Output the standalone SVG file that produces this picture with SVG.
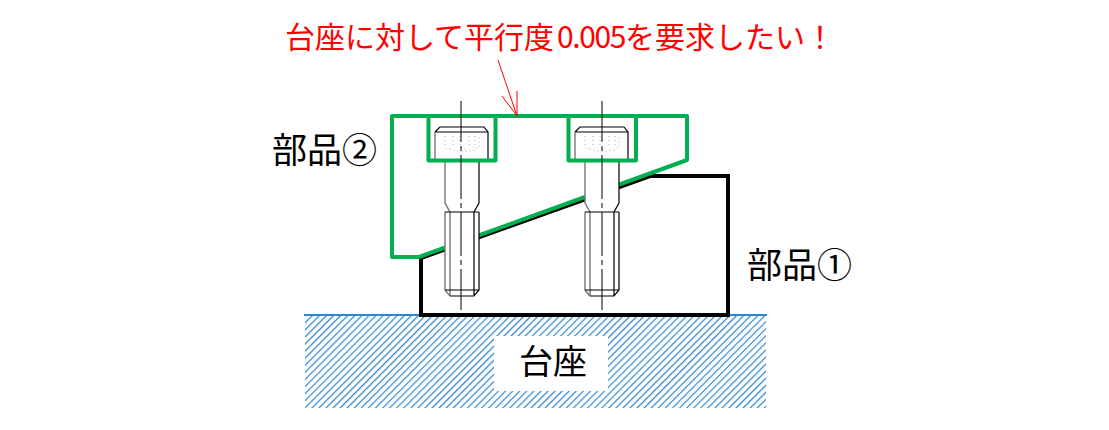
<svg xmlns="http://www.w3.org/2000/svg" width="1109" height="430" viewBox="0 0 1109 430">
<style>
text{font-family:"Noto Sans CJK JP","Liberation Sans",sans-serif}
.lbl{font-size:35px;fill:#000}
.g{fill:none;stroke:#00b050;stroke-width:4;stroke-linejoin:round}
.k{fill:none;stroke:#000;stroke-width:4;stroke-linejoin:miter}
.b{fill:none;stroke:#000;stroke-width:1.2}
.b2{fill:none;stroke:#777;stroke-width:1.4}
.c{stroke:#000;stroke-width:1;stroke-dasharray:44 4 5 4;stroke-dashoffset:3;fill:none}
.d{fill:none;stroke:#aaa;stroke-width:1;stroke-dasharray:1 3}
</style>
<defs>
<pattern id="h" width="5" height="5" patternUnits="userSpaceOnUse" patternTransform="rotate(45 305 315)">
<rect x="0" y="0" width="1.2" height="5" fill="#2e86d0"/>
</pattern>
<g id="bolt">
<rect x="445" y="161" width="34" height="130" fill="#fff"/>
<path class="b2" d="M445 161V203L450 212V296M445 212V290L450 296"/>
<path class="b" d="M479 161V203L474 212V296M479 212V290L474 296H450M445 212H479M445 290H479"/>
<rect x="435" y="127" width="53" height="34" fill="#fff"/>
<path class="b" d="M435 132L440 127H484L488 132V160M435 132H488"/>
<path class="b2" d="M435 132V160"/>
<path class="d" d="M445 136V147Q447 151 450 148M453 136V146M460 136V146Q462 152 466 148M469 136V146M475 136V146Q478 151 479 146V136M450 149Q456 153 476 150"/>
</g>
</defs>
<rect width="1109" height="430" fill="#fff"/>
<g id="base">
<rect x="305" y="315" width="461" height="93" fill="url(#h)"/>
<path d="M304 315H767" stroke="#2e86d0" stroke-width="2" fill="none"/>
<rect x="494" y="336" width="114" height="55" fill="#fff"/>
<text class="lbl" x="519" y="374" style="font-size:34px">台座</text>
</g>
<g id="part1">
<path class="k" d="M421 258V315H728V176H650L421 258"/>
<text class="lbl" x="747" y="278">部品①</text>
</g>
<g id="part2">
<path class="g" d="M392 116H687V160L419 257H392Z"/>
<text class="lbl" x="272" y="163">部品②</text>
</g>
<g id="bolt1">
<use href="#bolt"/>
<path class="g" d="M428.500 116V160.500H495.500V116"/>
<path class="c" d="M461 101V310"/>
</g>
<g id="bolt2">
<use href="#bolt" x="140"/>
<path class="g" d="M568.500 116V160.500H636V116"/>
<path class="c" d="M602 101V310"/>
</g>
<g id="connectors">
<path d="M498 60L517 116L502 96M517 116V91" fill="none" stroke="#f00" stroke-width="1"/>
</g>
<g id="title">
<text y="48" fill="#f00" style="font-size:30px" x="285">台座に対して平行度<tspan x="557" letter-spacing="-1.4">0.005</tspan><tspan x="625">を要求したい！</tspan></text>
</g>
</svg>
